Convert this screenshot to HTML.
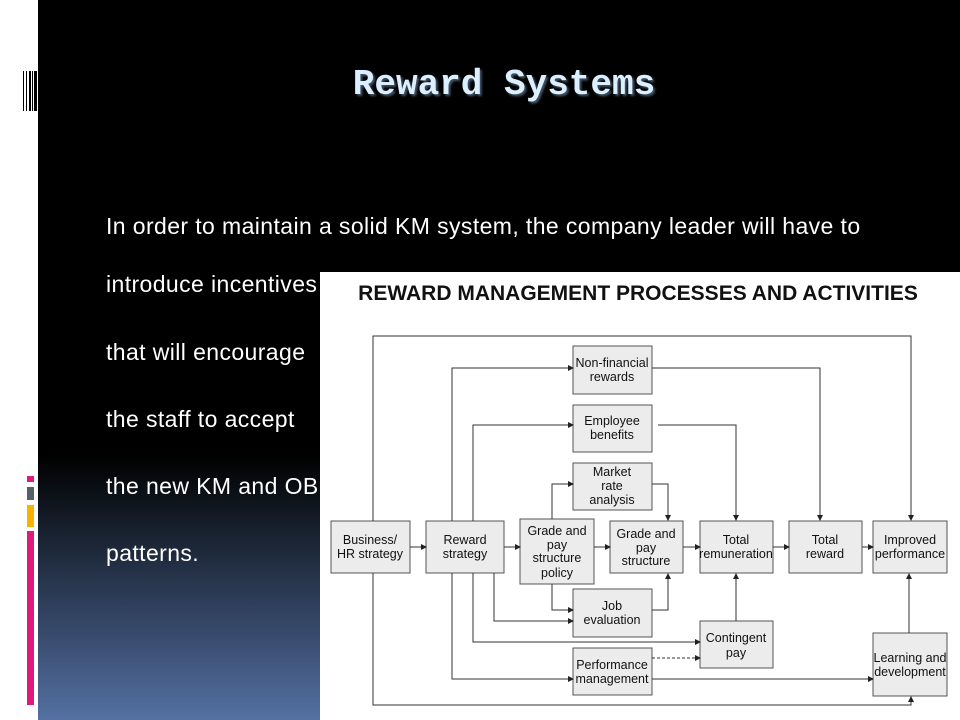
<!DOCTYPE html>
<html><head><meta charset="utf-8"><style>
body{margin:0;width:960px;height:720px;overflow:hidden;background:#fff;position:relative;font-family:"Liberation Sans",sans-serif}
#bg{position:absolute;left:38px;top:0;width:922px;height:720px;background:linear-gradient(#000 0,#000 455px,#17202e 530px,#3a4d70 640px,#5471a2 720px)}
.t{position:absolute;color:#fff;font-size:23px;letter-spacing:0.4px;left:106px;white-space:nowrap}
h1{position:absolute;margin:0;left:38px;width:932px;text-align:center;top:64px;font-family:"Liberation Mono",monospace;font-size:36px;color:#dcefff;text-shadow:2px 2px 2px #456}
.bar{position:absolute;left:27px;width:7px}
</style></head><body>
<div id="bg"></div>
<svg style="position:absolute;left:22px;top:71px" width="16" height="40"><g fill="#000"><rect x="1" y="0" width="1" height="40"/><rect x="4" y="0" width="1" height="40"/><rect x="7" y="0" width="2" height="40"/><rect x="10" y="0" width="1" height="40"/><rect x="12" y="0" width="3" height="40"/></g></svg>
<div class="bar" style="top:476px;height:6px;background:#e0197c"></div>
<div class="bar" style="top:487px;height:13px;background:#55606b"></div>
<div class="bar" style="top:505px;height:22px;background:#f6b400"></div>
<div class="bar" style="top:531px;height:174px;background:#e0197c"></div>
<h1>Reward Systems</h1>
<div class="t" style="top:213px">In order to maintain a solid KM system, the company leader will have to</div>
<div class="t" style="top:271px">introduce incentives</div>
<div class="t" style="top:339px">that will encourage</div>
<div class="t" style="top:406px">the staff to accept</div>
<div class="t" style="top:473px">the new KM and OB</div>
<div class="t" style="top:540px">patterns.</div>
<svg style="position:absolute;left:0;top:0" width="960" height="720" font-family="Liberation Sans,sans-serif">
<defs><marker id="a" markerWidth="6" markerHeight="6" refX="5" refY="3" orient="auto" markerUnits="userSpaceOnUse"><path d="M0,0L6,3L0,6z" fill="#222"/></marker></defs>
<rect x="320" y="272" width="640" height="448" fill="#fff"/>
<text x="638" y="300" font-size="21" font-weight="bold" text-anchor="middle" fill="#111">REWARD MANAGEMENT PROCESSES AND ACTIVITIES</text>
<g fill="#ececec" stroke="#555" stroke-width="1">
<rect x="331" y="521" width="79" height="52"/><rect x="426" y="521" width="78" height="52"/>
<rect x="520" y="519" width="74" height="65"/><rect x="610" y="521" width="73" height="52"/>
<rect x="700" y="521" width="73" height="52"/><rect x="789" y="521" width="73" height="52"/>
<rect x="873" y="521" width="74" height="52"/>
<rect x="573" y="346" width="79" height="48"/><rect x="573" y="405" width="79" height="47"/>
<rect x="573" y="463" width="79" height="47"/><rect x="573" y="589" width="79" height="48"/>
<rect x="700" y="621" width="73" height="47"/><rect x="573" y="648" width="79" height="47"/>
<rect x="873" y="633" width="74" height="63"/>
</g>
<g fill="none" stroke="#333" stroke-width="1">
<path d="M373 521V336H911V520" marker-end="url(#a)"/>
<path d="M373 573V705H911V697" marker-end="url(#a)"/>
<path d="M452 521V368H573" marker-end="url(#a)"/>
<path d="M652 368H820V520" marker-end="url(#a)"/>
<path d="M473 521V425H573" marker-end="url(#a)"/>
<path d="M658 425H736V520" marker-end="url(#a)"/>
<path d="M552 519V484H573" marker-end="url(#a)"/>
<path d="M652 484H668V520" marker-end="url(#a)"/>
<path d="M410 547H426" marker-end="url(#a)"/><path d="M504 547H520" marker-end="url(#a)"/>
<path d="M594 547H610" marker-end="url(#a)"/><path d="M683 547H700" marker-end="url(#a)"/>
<path d="M773 547H789" marker-end="url(#a)"/><path d="M862 547H873" marker-end="url(#a)"/>
<path d="M552 584V610H573" marker-end="url(#a)"/>
<path d="M652 610H668V574" marker-end="url(#a)"/>
<path d="M494 573V621H573" marker-end="url(#a)"/>
<path d="M473 573V642H700" marker-end="url(#a)"/>
<path d="M736 621V574" marker-end="url(#a)"/>
<path d="M652 658H700" stroke-dasharray="3,2" marker-end="url(#a)"/>
<path d="M452 573V679H573" marker-end="url(#a)"/>
<path d="M652 679H873" marker-end="url(#a)"/>
<path d="M909 633V574" marker-end="url(#a)"/>
</g>
<g font-size="12.5" fill="#111" text-anchor="middle">
<text x="370" y="544">Business/</text><text x="370" y="558">HR strategy</text>
<text x="465" y="544">Reward</text><text x="465" y="558">strategy</text>
<text x="557" y="535">Grade and</text><text x="557" y="549">pay</text><text x="557" y="562">structure</text><text x="557" y="577">policy</text>
<text x="646" y="538">Grade and</text><text x="646" y="552">pay</text><text x="646" y="565">structure</text>
<text x="736" y="544">Total</text><text x="736" y="558">remuneration</text>
<text x="825" y="544">Total</text><text x="825" y="558">reward</text>
<text x="910" y="544">Improved</text><text x="910" y="558">performance</text>
<text x="612" y="367">Non-financial</text><text x="612" y="381">rewards</text>
<text x="612" y="425">Employee</text><text x="612" y="439">benefits</text>
<text x="612" y="476">Market</text><text x="612" y="490">rate</text><text x="612" y="504">analysis</text>
<text x="612" y="610">Job</text><text x="612" y="624">evaluation</text>
<text x="736" y="642">Contingent</text><text x="736" y="657">pay</text>
<text x="612" y="669">Performance</text><text x="612" y="683">management</text>
<text x="910" y="662">Learning and</text><text x="910" y="676">development</text>
</g>
</svg>
</body></html>
